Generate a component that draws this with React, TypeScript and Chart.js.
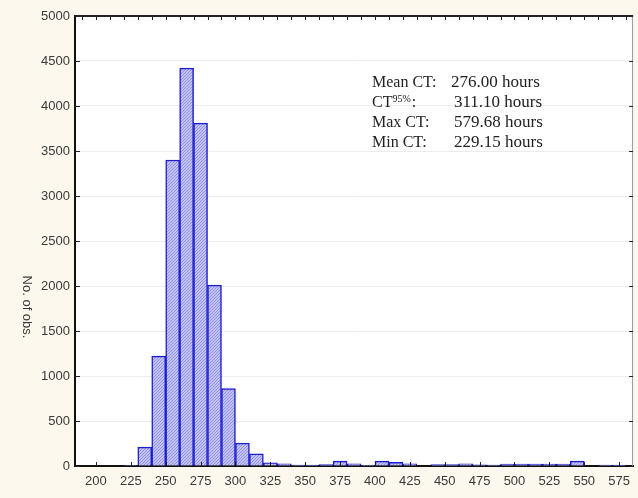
import React, { useEffect, useRef } from "react";
import { Chart, registerables } from "chart.js";

Chart.register(...registerables);

// Histogram bins (centres, width 10 hours) and counts
const binCenters = [
  225, 235, 245, 255, 265, 275, 285, 295, 305, 315, 325, 335, 345, 355, 365, 375, 385, 395,
  405, 415, 425, 435, 445, 455, 465, 475, 485, 495, 505, 515, 525, 535, 545, 555, 565, 575,
];
const counts = [
  5, 210, 1220, 3400, 4420, 3810, 2010, 860, 255, 135, 35, 25, 10, 10, 15, 55, 25, 8,
  55, 40, 25, 0, 15, 15, 25, 12, 10, 20, 20, 20, 20, 22, 55, 0, 10, 10,
];
const xTickValues = [200, 225, 250, 275, 300, 325, 350, 375, 400, 425, 450, 475, 500, 525, 550, 575];
const yTickValues = [0, 500, 1000, 1500, 2000, 2500, 3000, 3500, 4000, 4500, 5000];
const topTickValues = [
  190, 200, 210, 220, 230, 240, 250, 260, 270, 280, 290, 300, 310, 320, 330, 340, 350, 360, 370,
  380, 390, 400, 410, 420, 430, 440, 450, 460, 470, 480, 490, 500, 510, 520, 530, 540, 550, 560,
  570, 580,
];
const statLabels = ["Mean CT:", "CT", "Max CT:", "Min CT:"];
const statValues = ["276.00 hours", "311.10 hours", "579.68 hours", "229.15 hours"];
const yTitle = "No. of obs.";

const SANS = "'Liberation Sans', Arial, sans-serif";
const SERIF = "'Liberation Serif', 'Times New Roman', serif";

const framePlugin = {
  id: "frame",
  beforeDraw(chart: any) {
    const { ctx, chartArea: a } = chart;
    ctx.save();
    ctx.fillStyle = "#fcf8ee";
    ctx.fillRect(0, 0, chart.width, chart.height);
    ctx.fillStyle = "#ffffff";
    ctx.fillRect(a.left, a.top, a.right - a.left, a.bottom - a.top);
    ctx.restore();
  },
  afterDraw(chart: any) {
    const { ctx, chartArea: a, scales } = chart;
    const xs = scales.x;
    const ys = scales.y;
    ctx.save();
    // right border
    ctx.strokeStyle = "#9a9a9a";
    ctx.lineWidth = 1;
    ctx.beginPath();
    ctx.moveTo(a.right - 0.5, a.top);
    ctx.lineTo(a.right - 0.5, a.bottom);
    ctx.stroke();
    // top border
    ctx.strokeStyle = "#222";
    ctx.lineWidth = 2;
    ctx.beginPath();
    ctx.moveTo(a.left, a.top);
    ctx.lineTo(a.right, a.top);
    ctx.stroke();
    // ticks
    ctx.lineWidth = 1;
    ctx.strokeStyle = "#222";
    ctx.beginPath();
    topTickValues.forEach((v) => {
      const x = Math.round(xs.getPixelForValue(v)) + 0.5;
      ctx.moveTo(x, a.top);
      ctx.lineTo(x, a.top + 4);
    });
    xTickValues.forEach((v) => {
      const x = Math.round(xs.getPixelForValue(v)) + 0.5;
      ctx.moveTo(x, a.bottom);
      ctx.lineTo(x, a.bottom - 4);
    });
    yTickValues.forEach((v) => {
      const y = Math.round(ys.getPixelForValue(v)) + 0.5;
      ctx.moveTo(a.left, y);
      ctx.lineTo(a.left + 5, y);
      ctx.moveTo(a.right, y);
      ctx.lineTo(a.right - 4, y);
    });
    ctx.stroke();

    // y title, rotated clockwise
    ctx.save();
    ctx.translate(27, a.top + 291);
    ctx.rotate(Math.PI / 2);
    ctx.font = `13px ${SANS}`;
    ctx.fillStyle = "#3a3a3a";
    ctx.textAlign = "center";
    ctx.textBaseline = "middle";
    ctx.fillText(yTitle, 0, 0);
    ctx.restore();

    // statistics annotation
    ctx.fillStyle = "#222";
    ctx.textBaseline = "alphabetic";
    ctx.textAlign = "left";
    const lx = a.left + 297;
    const vx = a.left + 379;
    statLabels.forEach((lab, i) => {
      const y = a.top + 71 + i * 20;
      ctx.font = `16px ${SERIF}`;
      ctx.fillText(lab, lx, y);
      if (i === 1) {
        const w = ctx.measureText(lab).width;
        ctx.font = `10px ${SERIF}`;
        ctx.fillText("95%", lx + w, y - 5);
        const w2 = ctx.measureText("95%").width;
        ctx.font = `16px ${SERIF}`;
        ctx.fillText(":", lx + w + w2 + 1, y);
      }
      ctx.font = `17px ${SERIF}`;
      ctx.fillText(statValues[i], i === 0 ? vx - 3 : vx, y);
    });
    ctx.restore();
  },
};

export default function App() {
  const ref = useRef<HTMLCanvasElement | null>(null);

  useEffect(() => {
    const canvas = ref.current;
    if (!canvas) return;
    const ctx = canvas.getContext("2d")!;

    const pc = document.createElement("canvas");
    pc.width = 3;
    pc.height = 3;
    const p = pc.getContext("2d")!;
    p.fillStyle = "#c2c2f2";
    p.fillRect(0, 0, 3, 3);
    p.fillStyle = "#9292e0";
    p.fillRect(0, 2, 1, 1);
    p.fillRect(1, 1, 1, 1);
    p.fillRect(2, 0, 1, 1);
    const pattern = ctx.createPattern(pc, "repeat") || "#b8b8ee";

    const chart = new Chart(ctx, {
      type: "bar",
      data: {
        datasets: [
          {
            data: binCenters.map((x, i) => ({ x, y: counts[i] })),
            backgroundColor: pattern as any,
            borderColor: "#1c1cd0",
            borderWidth: 1.5,
            barPercentage: 1,
            categoryPercentage: 1,
          },
        ],
      },
      options: {
        responsive: false,
        animation: false,
        layout: { padding: { top: 16, right: 1, left: 0, bottom: 0 } },
        plugins: { legend: { display: false }, tooltip: { enabled: false }, title: { display: false } },
        scales: {
          x: {
            type: "linear",
            min: 185,
            max: 585,
            offset: false,
            grid: { display: false, drawTicks: false },
            border: { display: true, color: "#111", width: 2 },
            afterBuildTicks: (s: any) => {
              s.ticks = xTickValues.map((v) => ({ value: v }));
            },
            afterFit: (s: any) => {
              s.height = 32;
            },
            ticks: {
              autoSkip: false,
              maxRotation: 0,
              padding: 8,
              color: "#3a3a3a",
              font: { family: SANS, size: 13 },
              callback: (v: any) => String(v),
            },
          },
          y: {
            min: 0,
            max: 5000,
            grid: { color: "#ececec", lineWidth: 1, drawTicks: false },
            border: { display: true, color: "#111", width: 2 },
            afterBuildTicks: (s: any) => {
              s.ticks = yTickValues.map((v) => ({ value: v }));
            },
            afterFit: (s: any) => {
              s.width = 75;
            },
            ticks: {
              padding: 5,
              color: "#3a3a3a",
              font: { family: SANS, size: 13 },
              callback: (v: any) => String(v),
            },
          },
        },
      },
      plugins: [framePlugin],
    });
    return () => chart.destroy();
  }, []);

  return (
    <div style={{ position: "fixed", left: 0, top: 0, width: 638, height: 498 }}>
      <canvas ref={ref} width={638} height={498} style={{ display: "block" }} />
    </div>
  );
}
